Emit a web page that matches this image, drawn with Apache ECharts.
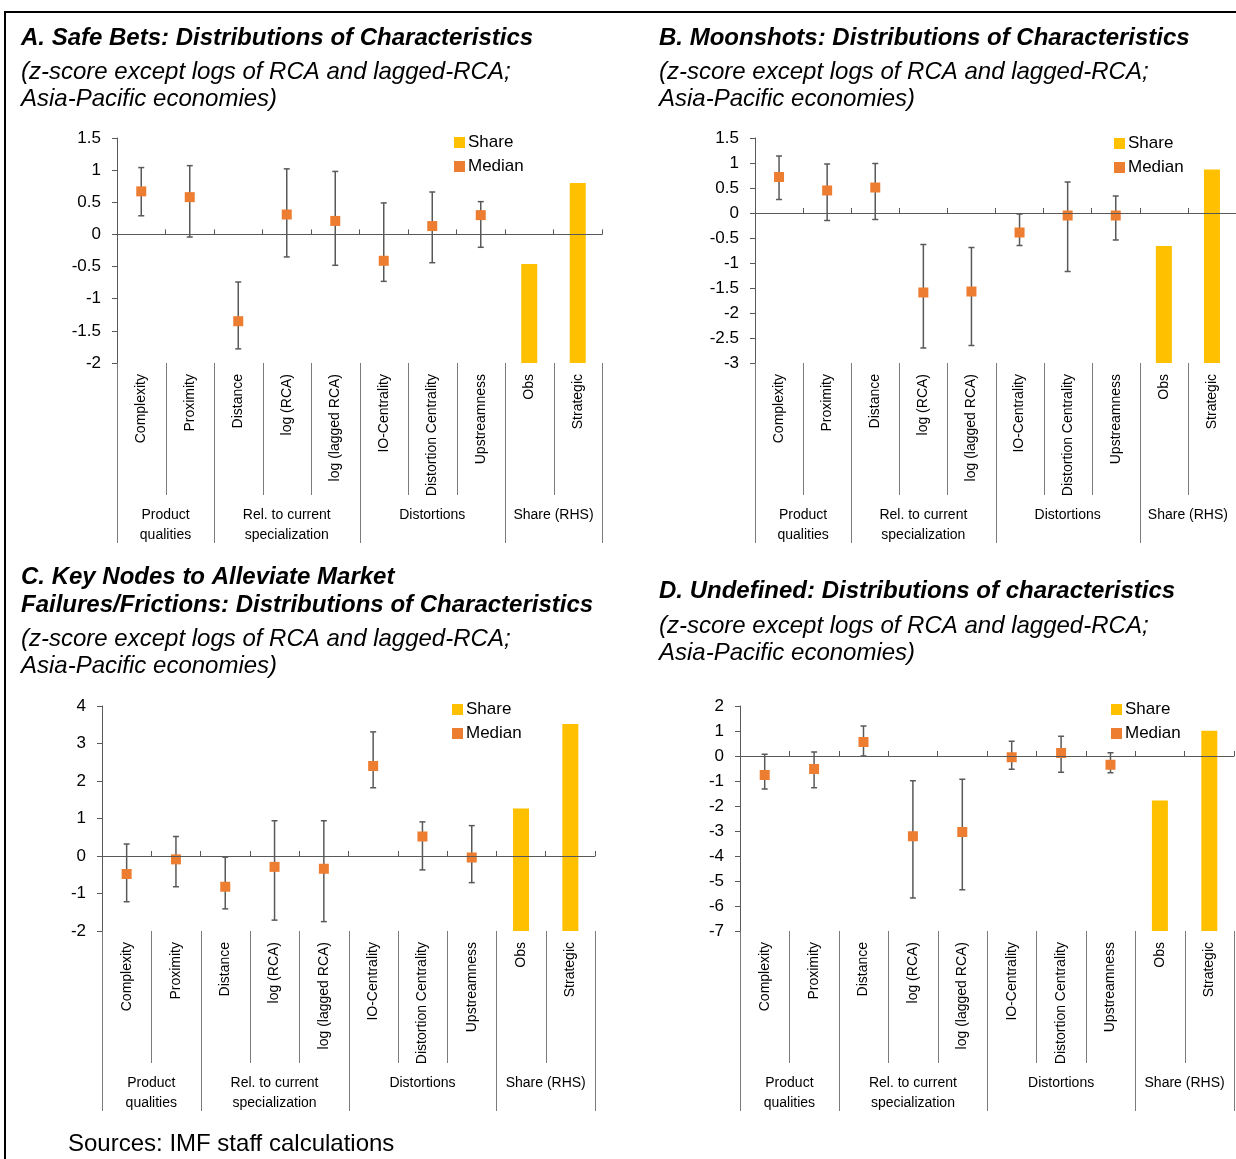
<!DOCTYPE html>
<html>
<head>
<meta charset="utf-8">
<script src="https://cdn.jsdelivr.net/npm/echarts@6/dist/echarts.min.js"></script>
<style>
html,body{margin:0;padding:0;background:#fff;}
#chart{width:1236px;height:1159px;}
</style>
</head>
<body>
<div id="chart"></div>
<script>
// ---------------- DATA ----------------
const categories = ['Complexity','Proximity','Distance','log (RCA)','log (lagged RCA)','IO-Centrality','Distortion Centrality','Upstreamness','Obs','Strategic'];
const groupNames = ['Product\nqualities','Rel. to current\nspecialization','Distortions','Share (RHS)'];
const groupStart = [0, 2, 5, 8];
const groupEnd = [1, 4, 7, 9];

// Panel A: Safe Bets
const medianA = [0.67, 0.58, -1.35, 0.31, 0.21, -0.41, 0.13, 0.30];
const lowA    = [0.29, -0.04, -1.78, -0.35, -0.48, -0.73, -0.44, -0.20];
const highA   = [1.04, 1.07, -0.74, 1.02, 0.98, 0.49, 0.66, 0.51];
const shareA  = [0.44, 0.80];          // Obs, Strategic (RHS)
const yTicksA = [-2, 1.5, 0.5];        // min, max, step

// Panel B: Moonshots
const medianB = [0.72, 0.45, 0.51, -1.59, -1.57, -0.39, -0.05, -0.05];
const lowB    = [0.27, -0.15, -0.13, -2.70, -2.65, -0.65, -1.17, -0.54];
const highB   = [1.14, 0.98, 0.99, -0.63, -0.69, -0.02, 0.62, 0.34];
const shareB  = [0.52, 0.86];
const yTicksB = [-3, 1.5, 0.5];

// Panel C: Key Nodes
const medianC = [-0.48, -0.09, -0.82, -0.29, -0.34, 2.40, 0.52, -0.04];
const lowC    = [-1.22, -0.82, -1.41, -1.71, -1.75, 1.82, -0.37, -0.71];
const highC   = [0.32, 0.52, -0.03, 0.94, 0.94, 3.31, 0.91, 0.81];
const shareC  = [0.545, 0.92];
const yTicksC = [-2, 4, 1];

// Panel D: Undefined
const medianD = [-0.76, -0.52, 0.56, -3.21, -3.04, -0.05, 0.12, -0.35];
const lowD    = [-1.32, -1.27, 0.00, -5.68, -5.35, -0.53, -0.65, -0.67];
const highD   = [0.07, 0.16, 1.20, -0.99, -0.93, 0.59, 0.79, 0.13];
const shareD  = [0.58, 0.89];
const yTicksD = [-7, 2, 1];

const legendNames = ['Share', 'Median'];
const subtitleText = '(z-score except logs of RCA and lagged-RCA;\nAsia-Pacific economies)';
const titleA = 'A. Safe Bets: Distributions of Characteristics';
const titleB = 'B. Moonshots: Distributions of Characteristics';
const titleC = 'C. Key Nodes to Alleviate Market\nFailures/Frictions: Distributions of Characteristics';
const titleD = 'D. Undefined: Distributions of characteristics';
const sourceText = 'Sources: IMF staff calculations';

// ---------------- STYLE / LAYOUT ----------------
const FONT = "'Liberation Sans', Arial, sans-serif";
const AXIS_COLOR = '#595959';
const BAR_COLOR = '#FFC000';
const MED_COLOR = '#ED7D31';
const ERR_COLOR = '#595959';
const SEP_COLOR = '#7a7a7a';

const panels = [
  { med: medianA, low: lowA, high: highA, share: shareA, ticks: yTicksA,
    grid: { left: 117, top: 138, width: 485, height: 225 }, legend: { left: 454, top: 134 } },
  { med: medianB, low: lowB, high: highB, share: shareB, ticks: yTicksB,
    grid: { left: 755, top: 138, width: 481, height: 225 }, legend: { left: 1114, top: 135 } },
  { med: medianC, low: lowC, high: highC, share: shareC, ticks: yTicksC,
    grid: { left: 102, top: 706, width: 493, height: 225 }, legend: { left: 452, top: 701 } },
  { med: medianD, low: lowD, high: highD, share: shareD, ticks: yTicksD,
    grid: { left: 740, top: 706, width: 494, height: 225 }, legend: { left: 1111, top: 701 } }
];

const INNER_SEP = 132, GROUP_SEP = 180, GROUP_LABEL_OFF = 142;

function lineEl(x1, y1, x2, y2, color, w) {
  return { type: 'line', shape: { x1: x1, y1: y1, x2: x2, y2: y2 },
           style: { stroke: color, lineWidth: w } };
}

function renderErr(params, api) {
  const i = api.value(0);
  const lo = api.coord([i, api.value(1)]);
  const hi = api.coord([i, api.value(2)]);
  const cw = 3;
  return { type: 'group', children: [
    lineEl(lo[0], lo[1], hi[0], hi[1], ERR_COLOR, 1.5),
    lineEl(lo[0] - cw, lo[1], lo[0] + cw, lo[1], ERR_COLOR, 1.5),
    lineEl(hi[0] - cw, hi[1], hi[0] + cw, hi[1], ERR_COLOR, 1.5)
  ]};
}

function renderSep(params, api) {
  const c = api.value(0);
  const p = api.coord([c, api.value(1)]);
  const band = api.size([1, 0])[0];
  const y0 = p[1];
  const children = [];
  const xl = Math.round(p[0] - band / 2) + 0.5;
  const isGroup = groupStart.indexOf(c) >= 0;
  children.push(lineEl(xl, y0, xl, y0 + (isGroup ? GROUP_SEP : INNER_SEP), SEP_COLOR, 1));
  if (c === categories.length - 1) {
    const xr = Math.round(p[0] + band / 2) + 0.5;
    children.push(lineEl(xr, y0, xr, y0 + GROUP_SEP, SEP_COLOR, 1));
  }
  return { type: 'group', children: children };
}

function renderGroup(params, api) {
  const a = api.coord([api.value(0), api.value(1)]);
  const b = api.coord([api.value(2), api.value(1)]);
  const g = api.value(3);
  return { type: 'text', style: {
    x: (a[0] + b[0]) / 2, y: a[1] + GROUP_LABEL_OFF,
    text: groupNames[g], align: 'center', verticalAlign: 'top',
    fontSize: 14, fontFamily: FONT, lineHeight: 20, fill: '#000'
  }};
}

const grid = [], xAxis = [], yAxis = [], series = [], legend = [];

panels.forEach(function (P, p) {
  grid.push(Object.assign({ containLabel: false }, P.grid));
  // x axis on zero (line + inner ticks)
  xAxis.push({
    type: 'category', gridIndex: p, data: categories, position: 'bottom', z: 6,
    axisLine: { onZero: true, onZeroAxisIndex: 2 * p, lineStyle: { color: AXIS_COLOR, width: 1 } },
    axisTick: { show: true, inside: true, interval: 0, length: 5, lineStyle: { color: AXIS_COLOR } },
    axisLabel: { show: false }, splitLine: { show: false }
  });
  // x axis at bottom: category labels
  xAxis.push({
    type: 'category', gridIndex: p, data: categories, position: 'bottom',
    axisLine: { show: false, onZero: false }, axisTick: { show: false },
    axisLabel: { show: true, interval: 0, rotate: 90, margin: 11, fontSize: 14, fontFamily: FONT, color: '#000' },
    splitLine: { show: false }
  });
  // left value axis
  yAxis.push({
    type: 'value', gridIndex: p, min: P.ticks[0], max: P.ticks[1], interval: P.ticks[2],
    axisLine: { show: true, lineStyle: { color: AXIS_COLOR } },
    axisTick: { show: true, length: 5, lineStyle: { color: AXIS_COLOR } },
    axisLabel: { fontSize: 17, fontFamily: FONT, color: '#000', margin: 16 },
    splitLine: { show: false }
  });
  // hidden right axis for shares
  yAxis.push({ type: 'value', gridIndex: p, position: 'right', min: 0, max: 1, show: false, splitLine: { show: false } });

  series.push({
    name: 'Share', type: 'bar', xAxisIndex: 2 * p, yAxisIndex: 2 * p + 1, z: 2,
    barWidth: 16, itemStyle: { color: BAR_COLOR },
    data: categories.map(function (c, i) { return i < P.med.length ? null : P.share[i - P.med.length]; })
  });
  series.push({
    name: 'range', type: 'custom', xAxisIndex: 2 * p, yAxisIndex: 2 * p, z: 3, clip: false,
    renderItem: renderErr, encode: { x: 0, y: [1, 2] },
    data: P.med.map(function (m, i) { return [i, P.low[i], P.high[i]]; })
  });
  series.push({
    name: 'Median', type: 'scatter', xAxisIndex: 2 * p, yAxisIndex: 2 * p, z: 4,
    symbol: 'rect', symbolSize: 10, itemStyle: { color: MED_COLOR, opacity: 1 },
    data: P.med
  });
  series.push({
    name: 'separators', type: 'custom', xAxisIndex: 2 * p, yAxisIndex: 2 * p, z: 1, clip: false, silent: true,
    renderItem: renderSep, encode: { x: 0, y: 1 },
    data: categories.map(function (c, i) { return [i, P.ticks[0]]; })
  });
  series.push({
    name: 'groups', type: 'custom', xAxisIndex: 2 * p, yAxisIndex: 2 * p, z: 1, clip: false, silent: true,
    renderItem: renderGroup, encode: { x: 0, y: 1 },
    data: groupStart.map(function (s, g) { return [s, P.ticks[0], groupEnd[g], g]; })
  });
  legend.push({
    data: legendNames, left: P.legend.left, top: P.legend.top, orient: 'vertical',
    icon: 'rect', itemWidth: 11, itemHeight: 11, itemGap: 7, padding: 0, selectedMode: false,
    itemStyle: { opacity: 1 },
    textStyle: { fontSize: 17, fontFamily: FONT, color: '#000', padding: [0, 0, 0, -2] }
  });
});

function tBlock(text, left, top, bold, size, lh) {
  return { text: text, left: left, top: top, padding: 0,
    textStyle: { fontSize: size, fontFamily: FONT, fontStyle: bold === 'src' ? 'normal' : 'italic',
      fontWeight: bold === true ? 'bold' : 'normal', color: '#000', lineHeight: lh } };
}

const title = [
  tBlock(titleA, 21, 24, true, 24, 28),
  tBlock(subtitleText, 21, 59, false, 24, 27),
  tBlock(titleB, 659, 24, true, 24, 28),
  tBlock(subtitleText, 659, 59, false, 24, 27),
  tBlock(titleC, 21, 563, true, 24, 28),
  tBlock(subtitleText, 21, 626, false, 24, 27),
  tBlock(titleD, 659, 577, true, 24, 28),
  tBlock(subtitleText, 659, 613, false, 24, 27),
  tBlock(sourceText, 68, 1130, 'src', 24, 28)
];

const chart = echarts.init(document.getElementById('chart'), null, { renderer: 'canvas' });
chart.setOption({
  animation: false,
  backgroundColor: '#fff',
  title: title,
  legend: legend,
  grid: grid,
  xAxis: xAxis,
  yAxis: yAxis,
  series: series,
  graphic: [
    { type: 'line', shape: { x1: 4, y1: 12, x2: 1236, y2: 12 }, style: { stroke: '#000', lineWidth: 2 } },
    { type: 'line', shape: { x1: 5, y1: 11, x2: 5, y2: 1159 }, style: { stroke: '#000', lineWidth: 2 } }
  ]
});
</script>
</body>
</html>
